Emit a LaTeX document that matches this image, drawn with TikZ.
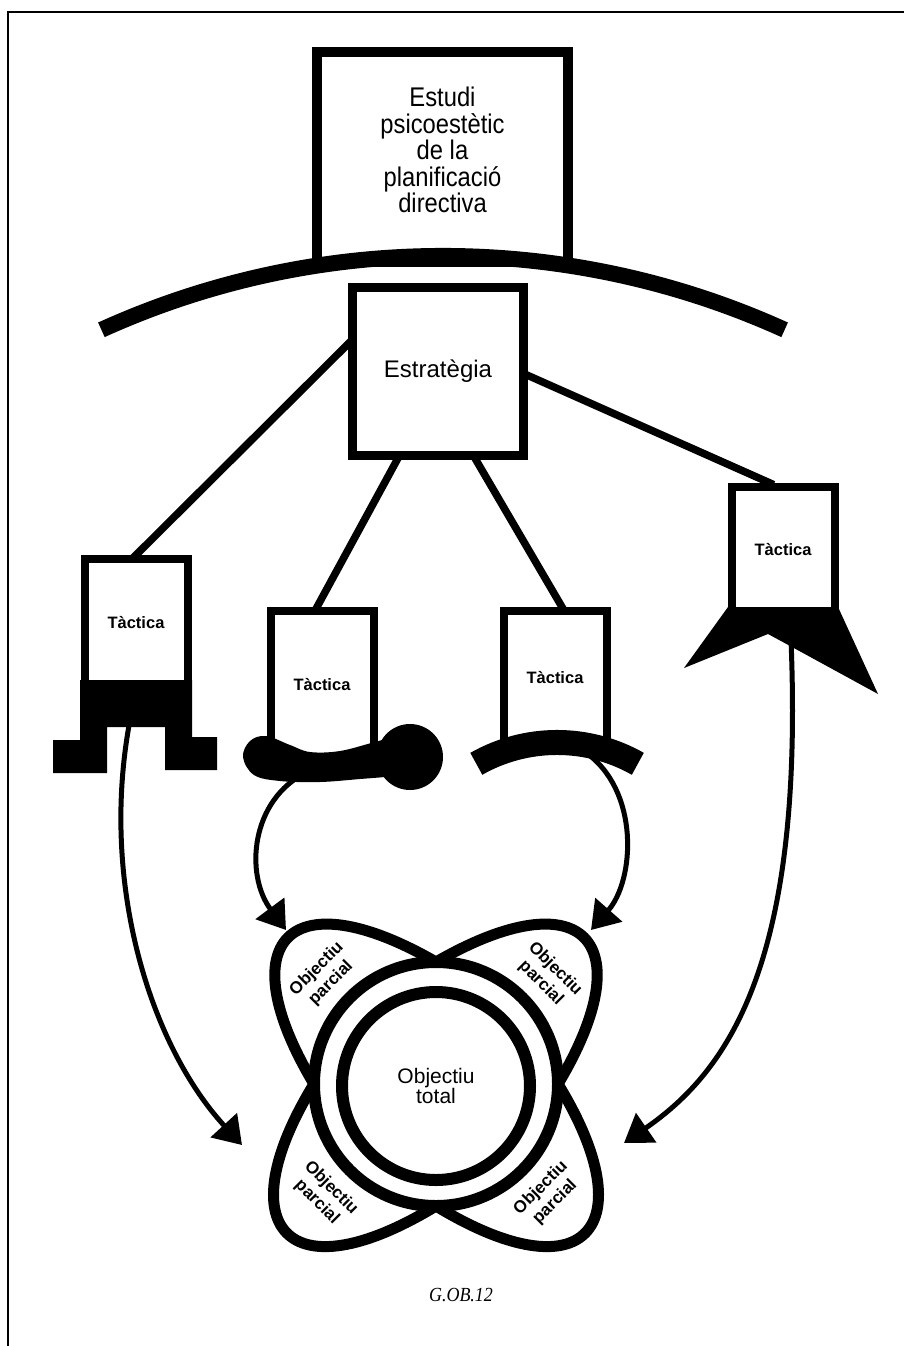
\documentclass[tikz,border=0pt]{standalone}
\usepackage{fontspec}
\setmainfont{Liberation Sans}
\newfontfamily\narrowfont{Liberation Sans}[FakeStretch=0.88]
\newfontfamily\capfont{Liberation Serif}[FakeStretch=0.9]
\usetikzlibrary{arrows.meta,calc}
\begin{document}
\begin{tikzpicture}[x=1pt,y=-1pt,
  boxst/.style={draw=black, fill=white, line width=9pt, inner sep=0pt},
  tacst/.style={boxst, line width=8pt, minimum width=103pt, font=\bfseries\fontsize{16.5}{18}\selectfont},
  conn/.style={line width=7.5pt, shorten <=-4pt, shorten >=-4pt},
  flow/.style={line width=5pt, -{Triangle[length=27pt,width=35pt]}},
  partxt/.style={font=\bfseries\fontsize{17}{20}\selectfont, align=center, inner sep=0pt},
  petal/.style={line width=11pt},
]
\useasboundingbox (0,0) rectangle (904,1346);
\draw[line width=2.5pt] (8,1346) -- (8,12) -- (906,12);

% top box
\node[boxst, line width=10pt, minimum width=251pt, minimum height=210pt] (topbox) at (442.5,157) {};
\node[align=center, font=\narrowfont\fontsize{27}{26.5}\selectfont] (toptext) at (442.5,150)
  {Estudi\\psicoestètic\\de la\\planificació\\directiva};

% big arc
\draw[line width=16pt] (101.4,329.8) arc[start angle=114.4, end angle=65.6, radius=827pt];

% strategy
\node[boxst, minimum width=171pt, minimum height=168pt, font=\fontsize{24}{26}\selectfont] (estr) at (438,371.5) {Estratègia};

% flow arrows (drawn under the bases)
\coordinate (a1s) at (131,715);  \coordinate (a1e) at (242,1145);
\coordinate (a2s) at (307,772);  \coordinate (a2e) at (286,930);
\coordinate (a3s) at (585,752);  \coordinate (a3e) at (591,930);
\coordinate (a4s) at (791,640);  \coordinate (a4e) at (624,1143);
\draw[flow] (a1s) .. controls (98,880) and (150,1045) .. (a1e);
\draw[flow] (a2s) .. controls (250,800) and (245,875) .. (a2e);
\draw[flow] (a3s) .. controls (640,790) and (635,880) .. (a3e);
\draw[flow] (a4s) .. controls (804,960) and (730,1070) .. (a4e);

% tactics
\node[tacst, minimum height=128pt] (t1) at (136,623) {Tàctica};
\node[tacst, minimum height=148pt] (t2) at (322,685) {Tàctica};
\node[tacst, minimum height=134pt] (t3) at (555,678) {Tàctica};
\node[tacst, minimum height=125pt] (t4) at (783,549.5) {Tàctica};

% connectors
\draw[conn] (estr.163) -- (t1.north);
\draw[conn] ($(estr.south)+(-41,0)$) -- ($(t2.north)+(-5,0)$);
\draw[conn] ($(estr.south)+(38,0)$) -- ($(t3.north)+(7,0)$);
\draw[conn] ($(estr.east)+(0,4)$) -- ($(t4.north)+(-13,0)$);

% bases
\fill (80,680) -- (192,680) -- (192,737) -- (217,737) -- (217,770) -- (165,770)
  -- (165,727) -- (107,727) -- (107,773) -- (53,773) -- (53,740) -- (80,740) -- cycle;
\fill plot[smooth cycle, tension=0.6] coordinates {(243,757) (250,741) (266,736) (290,745)
  (310,752) (340,751) (375,742) (400,736) (420,745) (420,772) (395,776) (360,779)
  (320,782) (280,781) (254,775)};
\fill (410,757) circle[radius=33pt];
\draw[line width=25pt] (476.3,763.8) arc[start angle=119.6, end angle=60.4, radius=163.5pt];
\fill (728,607) -- (838,607) -- (878,694) -- (792,647) -- (768,634) -- (684,668) -- cycle;

% flower
\draw[petal] (436,962) .. controls (582,878) and (644,940) .. (558,1084);
\draw[petal] (436,962) .. controls (290,878) and (228,940) .. (314,1084);
\draw[petal] (436,1206) .. controls (584,1296) and (646,1228) .. (558,1084);
\draw[petal] (436,1206) .. controls (288,1296) and (226,1228) .. (314,1084);
\node[circle, draw, fill=white, line width=12pt, minimum size=244pt, inner sep=0pt] (ring) at (436,1084) {};
\node[circle, draw, fill=white, line width=12pt, minimum size=188pt, inner sep=0pt, align=center,
  font=\fontsize{21}{20}\selectfont] (total) at (436,1086) {Objectiu\\total};
\node[partxt, rotate=45] (p1) at (324,976) {Objectiu\\parcial};
\node[partxt, rotate=-45] (p2) at (548,976) {Objectiu\\parcial};
\node[partxt, rotate=-45] (p3) at (324,1195) {Objectiu\\parcial};
\node[partxt, rotate=45] (p4) at (548,1195) {Objectiu\\parcial};

\node[font=\capfont\itshape\fontsize{20}{22}\selectfont] (cap) at (461,1295) {G.OB.12};
\end{tikzpicture}
\end{document}
